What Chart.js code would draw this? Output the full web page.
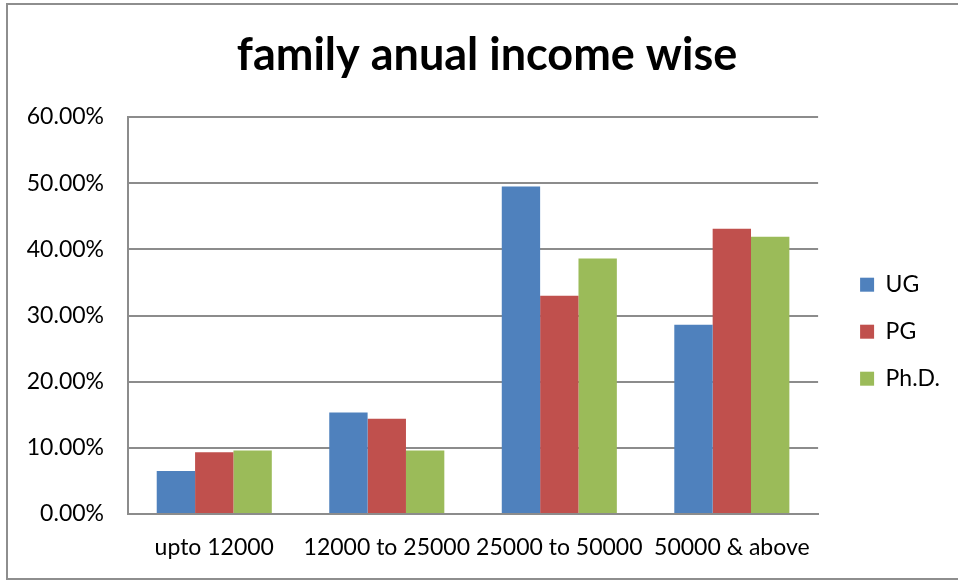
<!DOCTYPE html>
<html>
<head>
<meta charset="utf-8">
<script src="https://cdn.jsdelivr.net/npm/chart.js@4"></script>
<style>
  html, body { margin: 0; padding: 0; background: #fff; }
  #wrap { position: relative; width: 958px; height: 581px; }
</style>
</head>
<body>
<div id="wrap"><canvas id="incomeChart" width="958" height="581"></canvas></div>
<script>
// income bands and the share of students (%) in each
const categories = ['upto 12000', '12000 to 25000', '25000 to 50000', '50000 & above'];
const ugShare = [6.5, 15.35, 49.5, 28.6];
const pgShare = [9.35, 14.4, 33.0, 43.1];
const phdShare = [9.6, 9.6, 38.6, 41.9];
const seriesNames = ['UG', 'PG', 'Ph.D.'];
const seriesColors = ['#4F81BD', '#C0504D', '#9BBB59'];

const fontFamily = 'Lato, "Liberation Sans", sans-serif';
const axisGray = '#8c8c8c';

// light frame round the whole chart
const framePlugin = {
  id: 'frame',
  beforeDraw(chart) {
    const ctx = chart.ctx;
    ctx.save();
    ctx.fillStyle = '#fff';
    ctx.fillRect(0, 0, chart.width, chart.height);
    ctx.strokeStyle = '#8e8e8e';
    ctx.lineWidth = 2;
    ctx.strokeRect(7, 4, chart.width + 10, 575);
    ctx.restore();
  }
};

// nudge the legend away from the plot and centre the title over the plot
const nudgePlugin = {
  id: 'nudge',
  afterLayout(chart) {
    const lg = chart.legend;
    if (lg) {
      lg.left += 18;
      lg.right += 18;
      if (lg.adjustHitBoxes) lg.adjustHitBoxes();
    }
    const tb = chart.titleBlock;
    if (tb) {
      tb.left += 21;
      tb.right += 21;
    }
  }
};

const datasets = [ugShare, pgShare, phdShare].map((vals, i) => ({
  label: seriesNames[i],
  data: vals,
  backgroundColor: seriesColors[i],
  borderWidth: 0,
  categoryPercentage: 0.667,
  barPercentage: 1.0
}));

new Chart(document.getElementById('incomeChart'), {
  type: 'bar',
  data: { labels: categories, datasets: datasets },
  plugins: [framePlugin, nudgePlugin],
  options: {
    responsive: false,
    animation: false,
    layout: { padding: { left: 0, right: 26, top: 0, bottom: 0 } },
    plugins: {
      title: {
        display: true,
        text: 'family anual income wise',
        color: '#000',
        font: { family: fontFamily, size: 45, weight: 'bold' },
        padding: { top: 28, bottom: 35 }
      },
      legend: {
        position: 'right',
        title: { display: true, text: ' ', font: { size: 2 }, padding: { top: 40, bottom: 40 } },
        labels: {
          boxWidth: 14,
          boxHeight: 14,
          padding: 24,
          color: '#000',
          font: { family: fontFamily, size: 23 }
        }
      },
      tooltip: { enabled: false }
    },
    scales: {
      x: {
        grid: { display: false, drawTicks: false },
        border: { display: true, color: axisGray, width: 2 },
        ticks: {
          color: '#000',
          padding: 20,
          maxRotation: 0,
          autoSkip: false,
          font: { family: fontFamily, size: 23 }
        },
        afterFit(scale) { scale.height = 67; }
      },
      y: {
        min: 0,
        max: 60,
        grid: { color: axisGray, lineWidth: 2, drawTicks: false },
        border: { display: true, color: axisGray, width: 2 },
        ticks: {
          stepSize: 10,
          color: '#000',
          padding: 24,
          font: { family: fontFamily, size: 23 },
          callback: v => v.toFixed(2) + '%'
        },
        afterFit(scale) { scale.width = 128; }
      }
    }
  }
});
</script>
</body>
</html>
